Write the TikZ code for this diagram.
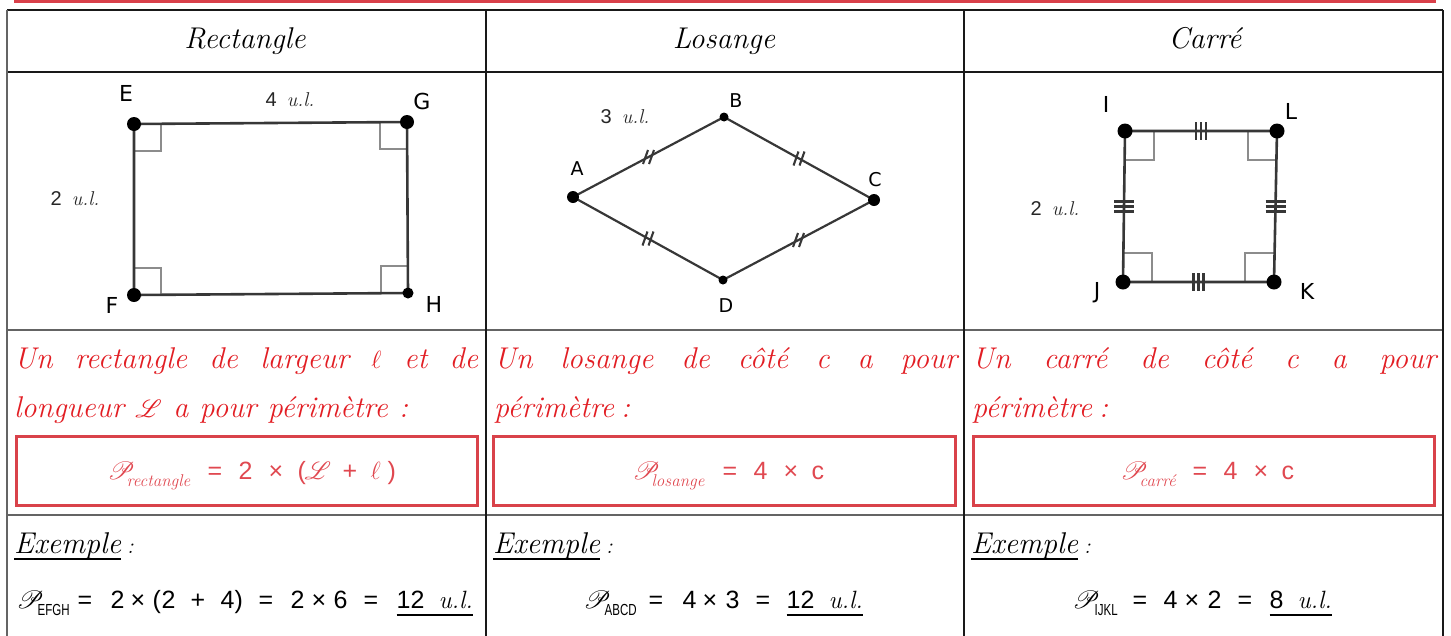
\documentclass[tikz,border=0pt]{standalone}
\usepackage{fontspec}
\usepackage{graphicx}
\usepackage{mathrsfs}
\usetikzlibrary{calc}
\newfontfamily\lab{DejaVu Sans}
\newfontfamily\num{Liberation Sans}
\definecolor{bar}{RGB}{217,64,74}
\definecolor{redtxt}{RGB}{226,30,36}
\definecolor{redbox}{RGB}{217,66,74}
\definecolor{redfml}{RGB}{224,72,80}
\definecolor{gridc}{RGB}{100,100,100}
\definecolor{darkc}{RGB}{25,25,25}
\definecolor{sidec}{RGB}{55,55,55}
\definecolor{anglec}{RGB}{140,140,140}
\newcommand\fs[1]{\fontsize{#1}{#1}\selectfont}
\newcommand\at[2]{\rlap{\hspace{#1pt}#2}}
\newcommand\PP{\fs{29}$\mathscr{P}$}
\newsavebox\ulbox
\newcommand\myul[2]{\sbox\ulbox{#2}\rlap{\rule[-#1]{\wd\ulbox}{2pt}}\usebox\ulbox}
\newcommand\ul{{\rmfamily\itshape u.l.}}
\tikzset{
  gridline/.style={draw=gridc, line width=1.6pt},
  darkline/.style={draw=darkc, line width=1.6pt},
  head/.style={font=\fs{30}\itshape, inner sep=0pt},
  ptlabel/.style={font=\lab\fs{22}, inner sep=0pt},
  ptlabelsm/.style={font=\lab\fs{19}, inner sep=0pt},
  measure/.style={font=\fs{20}, inner sep=0pt, anchor=base, text=black!85},
  dot/.style={circle, fill=black, inner sep=0pt, minimum size=#1},
  sidel/.style={draw=sidec, line width=2.6pt},
  rangle/.style={draw=anglec, line width=1.8pt},
  tickl/.style={draw=sidec, line width=2.1pt},
  redline/.style={font=\fs{30}\itshape, text=redtxt, inner sep=0pt, anchor=base west},
  redframe/.style={draw=redbox, line width=3pt, inner sep=0pt},
  fmla/.style={font=\num\fs{25}, text=redfml, inner sep=0pt, anchor=base west},
  exfmla/.style={font=\num\fs{25}, text=black, inner sep=0pt, anchor=base west},
  exlabel/.style={font=\fs{30}\itshape, inner sep=0pt, anchor=base west},
}
\newcommand\subc[1]{\raisebox{-7pt}{\fs{17}\rmfamily\itshape #1}}
\newcommand\subs[1]{\raisebox{-7pt}{\scalebox{0.72}[1]{\fs{16}\num #1}}}
\begin{document}
\begin{tikzpicture}[x=1pt,y=-1pt]
\useasboundingbox (0,0) rectangle (1451,635);
% top red bar
\fill[bar] (14,0) rectangle (1436,3);
% table grid
\draw[darkline] (7,10) -- (1443,10);
\draw[darkline] (7,72) -- (1443,72);
\draw[gridline] (7,330) -- (1443,330);
\draw[gridline] (7,515) -- (1443,515);
\draw[gridline] (7,10) -- (7,640);
\draw[darkline] (486,10) -- (486,640);
\draw[darkline] (964,10) -- (964,640);
\draw[darkline] (1443,10) -- (1443,640);
% headers
\node[head, anchor=base] (hR) at (245,48) {Rectangle};
\node[head, anchor=base] (hL) at (724,48) {Losange};
\node[head, anchor=base] (hC) at (1205,48) {Carré};

% ---------- rectangle ----------
\coordinate (E) at (134,124);
\coordinate (G) at (407,122);
\coordinate (F) at (134,295);
\coordinate (H) at (408,293);
\draw[rangle] ($(E)+(0,27)$) -- ($(E)+(27,27)$) -- ($(E)+(27,0)$);
\draw[rangle] ($(G)+(0,27)$) -- ($(G)+(-27,27)$) -- ($(G)+(-27,0)$);
\draw[rangle] ($(F)+(0,-27)$) -- ($(F)+(27,-27)$) -- ($(F)+(27,0)$);
\draw[rangle] ($(H)+(0,-27)$) -- ($(H)+(-27,-27)$) -- ($(H)+(-27,0)$);
\draw[sidel] (E) -- (G) -- (H) -- (F) -- cycle;
\node[dot=14pt] (Ed) at (E) {};
\node[dot=14pt] (Gd) at (G) {};
\node[dot=14pt] (Fd) at (F) {};
\node[dot=11pt] (Hd) at (H) {};
\node[ptlabel] (lE) at (126,93) {E};
\node[ptlabel] (lG) at (422,101) {G};
\node[ptlabel] (lF) at (112,305) {F};
\node[ptlabel] (lH) at (434,304) {H};
\node[measure] (m4) at (290,106) {{\num 4}\hspace{10pt}\ul};
\node[measure] (m2) at (75,205) {{\num 2}\hspace{10pt}\ul};

% ---------- rhombus ----------
\coordinate (A) at (573,197);
\coordinate (B) at (724,117);
\coordinate (C) at (874,200);
\coordinate (D) at (723,280);
\draw[sidel, line width=2.2pt] (A) -- (B) -- (C) -- (D) -- cycle;
\foreach \p/\q/\n in {A/B/ab, B/C/bc, C/D/cd, D/A/da}{
  \coordinate (m\n) at ($(\p)!0.5!(\q)$);
  \draw[tickl] ($(m\n)+(-5.5,7)$) -- ($(m\n)+(-0.5,-7)$);
  \draw[tickl] ($(m\n)+(0.5,7)$) -- ($(m\n)+(5.5,-7)$);
}
\node[dot=12pt] (Ad) at (A) {};
\node[dot=9pt] (Bd) at (B) {};
\node[dot=12pt] (Cd) at (C) {};
\node[dot=9pt] (Dd) at (D) {};
\node[ptlabelsm] (lA) at (577,169) {A};
\node[ptlabelsm] (lB) at (736,101) {B};
\node[ptlabelsm] (lC) at (875,180) {C};
\node[ptlabelsm] (lD) at (726,306) {D};
\node[measure] (m3) at (625,123) {{\num 3}\hspace{10pt}\ul};

% ---------- square ----------
\coordinate (I) at (1125,131);
\coordinate (L) at (1277,131);
\coordinate (J) at (1123,282);
\coordinate (K) at (1274,282);
\draw[rangle] ($(I)+(0,29)$) -- ($(I)+(29,29)$) -- ($(I)+(29,0)$);
\draw[rangle] ($(L)+(0,29)$) -- ($(L)+(-29,29)$) -- ($(L)+(-29,0)$);
\draw[rangle] ($(J)+(0,-29)$) -- ($(J)+(29,-29)$) -- ($(J)+(29,0)$);
\draw[rangle] ($(K)+(0,-29)$) -- ($(K)+(-29,-29)$) -- ($(K)+(-29,0)$);
\draw[sidel] (I) -- (L) -- (K) -- (J) -- cycle;
\foreach \p/\q/\n in {I/L/il, J/K/jk}{
  \coordinate (m\n) at ($(\p)!0.5!(\q)$);
  \foreach \d in {-5,0,5}{
    \draw[tickl] ($(m\n)+(\d,-9)$) -- ($(m\n)+(\d,9)$);
  }
}
\foreach \p/\q/\n in {I/J/ij, L/K/lk}{
  \coordinate (m\n) at ($(\p)!0.5!(\q)$);
  \foreach \d in {-5,0,5}{
    \draw[tickl] ($(m\n)+(-10,\d)$) -- ($(m\n)+(10,\d)$);
  }
}
\node[dot=15pt] (Id) at (I) {};
\node[dot=15pt] (Ld) at (L) {};
\node[dot=15pt] (Jd) at (J) {};
\node[dot=15pt] (Kd) at (K) {};
\node[ptlabel] (lI) at (1106,104) {I};
\node[ptlabel] (lL) at (1291,111) {L};
\node[ptlabel] (lJ) at (1097,293) {J};
\node[ptlabel] (lK) at (1307,291) {K};
\node[measure] (m2s) at (1055,215) {{\num 2}\hspace{10pt}\ul};

% ---------- definitions ----------
\node[redline] (t1a) at (14,368) {\makebox[464pt][s]{Un rectangle de largeur $\ell$ et de}};
\node[redline] (t1b) at (14,417) {\makebox[394pt][s]{longueur $\mathscr{L}$ a pour périmètre :}};
\node[redline] (t2a) at (494,368) {\makebox[463pt][s]{Un losange de côté c a pour}};
\node[redline] (t2b) at (494,417) {\makebox[134pt][s]{périmètre :}};
\node[redline] (t3a) at (972,368) {\makebox[464pt][s]{Un carré de côté c a pour}};
\node[redline] (t3b) at (972,417) {\makebox[136pt][s]{périmètre :}};

\node[redframe, minimum width=461pt, minimum height=69pt] (b1) at (246.5,470.5) {};
\node[redframe, minimum width=462pt, minimum height=69pt] (b2) at (724,470.5) {};
\node[redframe, minimum width=461pt, minimum height=69pt] (b3) at (1203.5,470.5) {};

\node[fmla] (f1) at (107,479) {\at{0}{\PP}\at{19}{\subc{rectangle}}\at{100}{=}\at{131}{2}\at{161}{×}\at{190}{(}\at{197}{\fs{28}$\mathscr{L}$}\at{235}{+}\at{263}{\fs{28}$\ell$}\at{280}{)}};
\node[fmla] (f2) at (632,479) {\at{0}{\PP}\at{19}{\subc{losange}}\at{90}{=}\at{121}{4}\at{151}{×}\at{179}{c}};
\node[fmla] (f3) at (1120,479) {\at{0}{\PP}\at{19}{\subc{carré}}\at{72}{=}\at{103}{4}\at{133}{×}\at{161}{c}};

% ---------- examples ----------
\node[exlabel] (e1) at (14,553) {\myul{7pt}{Exemple}\hspace{6pt}{\fs{22}:}};
\node[exlabel] (e2) at (493,553) {\myul{7pt}{Exemple}\hspace{6pt}{\fs{22}:}};
\node[exlabel] (e3) at (971,553) {\myul{7pt}{Exemple}\hspace{6pt}{\fs{22}:}};

\node[exfmla] (x1) at (16,608) {\at{0}{\PP}\at{21}{\subs{EFGH}}\at{61}{=}\at{94}{2}\at{114}{×}\at{136}{(}\at{145}{2}\at{174}{+}\at{204}{4}\at{218}{)}\at{242}{=}\at{274}{2}\at{295}{×}\at{317}{6}\at{347}{=}\at{380}{\myul{8pt}{12\hspace{14pt}\ul}}};
\node[exfmla] (x2) at (583,608) {\at{0}{\PP}\at{21}{\subs{ABCD}}\at{65}{=}\at{99}{4}\at{119}{×}\at{142}{3}\at{172}{=}\at{203}{\myul{8pt}{12\hspace{14pt}\ul}}};
\node[exfmla] (x3) at (1072,608) {\at{0}{\PP}\at{22}{\subs{IJKL}}\at{60}{=}\at{91}{4}\at{112}{×}\at{135}{2}\at{165}{=}\at{197}{\myul{8pt}{8\hspace{14pt}\ul}}};
\end{tikzpicture}
\end{document}
